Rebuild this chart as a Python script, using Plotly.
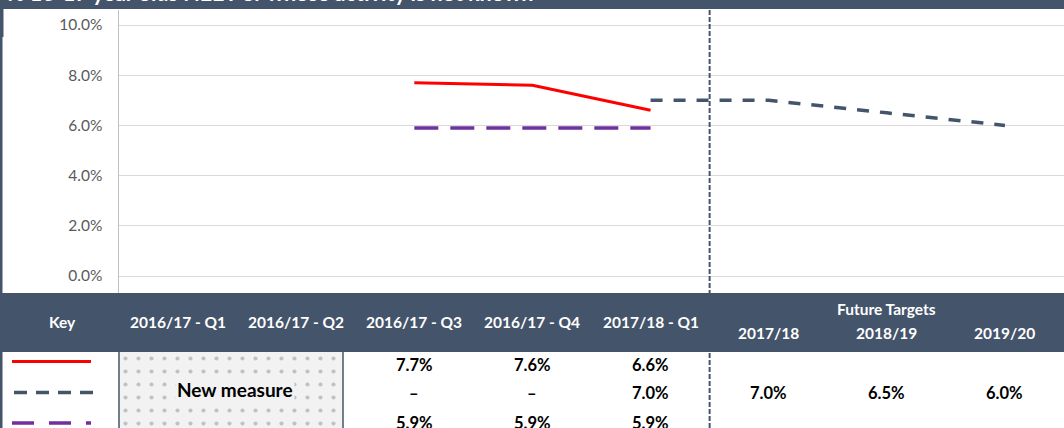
import plotly.graph_objects as go

# ---------------- data ----------------
categories = ["2016/17 - Q1", "2016/17 - Q2", "2016/17 - Q3", "2016/17 - Q4",
              "2017/18 - Q1", "2017/18", "2018/19", "2019/20"]
actual = [None, None, 7.7, 7.6, 6.6, None, None, None]
target = [None, None, None, None, 7.0, 7.0, 6.5, 6.0]
comparator = [None, None, 5.9, 5.9, 5.9, None, None, None]
y_ticks = [0, 2, 4, 6, 8, 10]
title_text = "% 16-17 year olds NEET or whose activity is not known"
key_label = "Key"
future_label = "Future Targets"
new_measure_label = "New measure"
n_historic = 5          # first five categories are reported quarters
n_new_measure = 2       # columns covered by "New measure"

# ---------------- styling ----------------
W, H = 1064, 428
SLATE = "#44546A"
RED = "#FF0000"
PURPLE = "#7030A0"
FONT = "Lato"


def fx(px):
    return px / W


def fy(py):
    return 1 - py / H


# y value <-> pixel mapping of the chart area (0% at 276px, 10% at 25px)
px_per_unit = (276 - 25) / 10.0
y_top = (276 - 10) / px_per_unit
y_bot = (276 - 293) / px_per_unit

fig = go.Figure()

# patterned "New measure" cell
fig.add_trace(go.Scatter(
    x=[0, 1, 1, 0, 0], y=[0, 0, 1, 1, 0], xaxis="x2", yaxis="y2",
    mode="lines", fill="toself", line=dict(width=0),
    fillcolor="#f2f2f2",
    fillpattern=dict(shape=".", bgcolor="#f2f2f2", fgcolor="#8f8f8f",
                     size=13, solidity=0.08),
    hoverinfo="skip", showlegend=False))

fig.add_trace(go.Scatter(
    x=categories, y=actual, mode="lines", name="Actual",
    line=dict(color=RED, width=3), connectgaps=False, showlegend=False))
fig.add_trace(go.Scatter(
    x=categories, y=target, mode="lines", name="Target",
    line=dict(color=SLATE, width=3.5, dash="12px,11px"),
    connectgaps=False, showlegend=False))
fig.add_trace(go.Scatter(
    x=categories, y=comparator, mode="lines", name="Comparator",
    line=dict(color=PURPLE, width=3.5, dash="24px,12px"),
    connectgaps=False, showlegend=False))

shapes = []
# divider between reported and future periods
shapes.append(dict(type="line", xref="x", yref="paper",
                   x0=n_historic - 0.5, x1=n_historic - 0.5, y0=0, y1=fy(10),
                   line=dict(color=SLATE, width=2, dash="5px,2px")))
# header band
shapes.append(dict(type="rect", xref="paper", yref="paper",
                   x0=0, x1=1, y0=fy(352), y1=fy(293),
                   fillcolor=SLATE, line=dict(width=0)))
# title band
shapes.append(dict(type="rect", xref="paper", yref="paper",
                   x0=0, x1=1, y0=fy(9), y1=1,
                   fillcolor=SLATE, line=dict(width=0)))
# left border
shapes.append(dict(type="rect", xref="paper", yref="paper",
                   x0=0, x1=fx(2.5), y0=0, y1=1,
                   fillcolor=SLATE, line=dict(width=0)))
shapes.append(dict(type="rect", xref="paper", yref="paper",
                   x0=0, x1=fx(3.5), y0=fy(37), y1=fy(9),
                   fillcolor=SLATE, line=dict(width=0)))
# table body borders
for bx in (119, 343):
    shapes.append(dict(type="line", xref="paper", yref="paper",
                       x0=fx(bx), x1=fx(bx), y0=0, y1=fy(352),
                       line=dict(color=SLATE, width=1.5)))
# key symbols
shapes.append(dict(type="line", xref="paper", yref="paper",
                   x0=fx(12), x1=fx(91), y0=fy(361.5), y1=fy(361.5),
                   line=dict(color=RED, width=3)))
shapes.append(dict(type="line", xref="paper", yref="paper",
                   x0=fx(14), x1=fx(97), y0=fy(392.5), y1=fy(392.5),
                   line=dict(color=SLATE, width=3.5, dash="13px,9px")))
shapes.append(dict(type="line", xref="paper", yref="paper",
                   x0=fx(12), x1=fx(91), y0=fy(423), y1=fy(423),
                   line=dict(color=PURPLE, width=3.5, dash="22px,15px")))

ann = []
hdr_font = dict(family=FONT, size=15.5, color="white", weight="bold")
body_font = dict(family=FONT, size=16.5, color="black", weight="bold")

ann.append(dict(text=title_text, xref="paper", yref="paper", x=fx(5), y=1,
                xanchor="left", yanchor="bottom", yshift=-8, showarrow=False,
                font=dict(family=FONT, size=21.5, color="white", weight="bold")))
ann.append(dict(text=key_label, xref="paper", yref="paper", x=fx(62), y=fy(322),
                xanchor="center", yanchor="middle",
                showarrow=False, font=hdr_font))
for i, c in enumerate(categories):
    ann.append(dict(text=c, xref="x", yref="paper", x=c,
                    y=fy(322) if i < n_historic else fy(333),
                    xanchor="center", yanchor="middle",
                    showarrow=False, font=hdr_font))
ann.append(dict(text=future_label, xref="x", yref="paper",
                x=categories[n_historic + 1], y=fy(309),
                xanchor="center", yanchor="middle",
                showarrow=False, font=hdr_font))
ann.append(dict(text=new_measure_label, xref="paper", yref="paper",
                x=fx(235), y=fy(389), xanchor="center", yanchor="middle",
                showarrow=False, bgcolor="#f2f2f2",
                font=dict(family=FONT, size=19, color="black", weight="bold")))

row_y = [365, 393, 423]
for series, ry in zip([actual, target, comparator], row_y):
    for i, c in enumerate(categories):
        if i < n_new_measure:
            continue
        v = series[i]
        if v is None:
            txt = "–" if i < n_historic else ""
        else:
            txt = f"{v:.1f}%"
        if txt:
            ann.append(dict(text=txt, xref="x", yref="paper", x=c, y=fy(ry),
                            xanchor="center", yanchor="middle",
                            showarrow=False, font=body_font))

fig.update_layout(
    width=W, height=H,
    margin=dict(l=0, r=0, t=0, b=0),
    paper_bgcolor="white", plot_bgcolor="rgba(0,0,0,0)",
    showlegend=False,
    xaxis=dict(domain=[fx(119), 1], type="category", categoryarray=categories,
               range=[-0.5, len(categories) - 0.5], visible=False,
               fixedrange=True),
    yaxis=dict(domain=[fy(293), fy(10)], range=[y_bot, y_top],
               tickvals=y_ticks, ticktext=[f"{v:.1f}%" for v in y_ticks],
               showgrid=True, gridcolor="#d9d9d9", gridwidth=1,
               zeroline=False, showline=True, linecolor="#bfbfbf",
               linewidth=1.5, ticks="outside", ticklen=12,
               tickcolor="rgba(0,0,0,0)",
               tickfont=dict(family=FONT, size=15.5, color="#595959"),
               fixedrange=True),
    xaxis2=dict(domain=[fx(119), fx(343)], range=[0, 1], visible=False,
                anchor="y2", fixedrange=True),
    yaxis2=dict(domain=[0, fy(352)], range=[0, 1], visible=False,
                anchor="x2", fixedrange=True),
    shapes=shapes,
    annotations=ann,
)

fig.write_html("out.html",
               config={"displayModeBar": False, "staticPlot": True},
               post_script="document.body.style.margin='0';"
                           "document.body.style.overflow='hidden';")
